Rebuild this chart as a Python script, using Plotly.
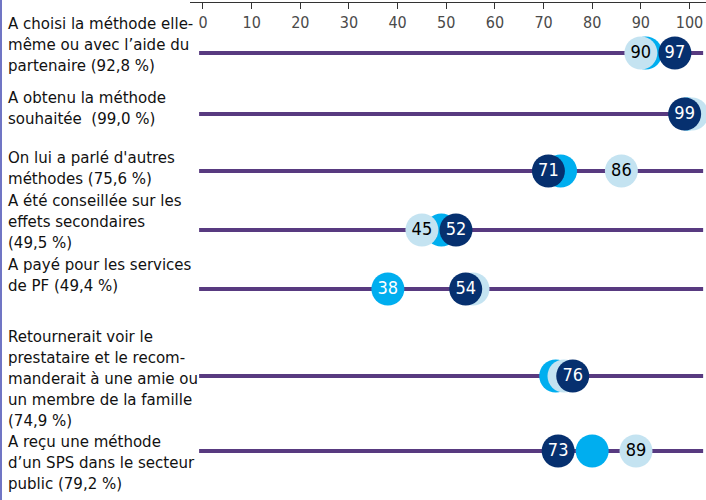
import plotly.graph_objects as go

# ---------------- data ----------------
labels = [
    "A choisi la méthode elle-<br>même ou avec l’aide du<br>partenaire (92,8 %)",
    "A obtenu la méthode<br>souhaitée  (99,0 %)",
    "On lui a parlé d'autres<br>méthodes (75,6 %)",
    "A été conseillée sur les<br>effets secondaires<br>(49,5 %)",
    "A payé pour les services<br>de PF (49,4 %)",
    "Retournerait voir le<br>prestataire et le recom-<br>manderait à une amie ou<br>un membre de la famille<br>(74,9 %)",
    "A reçu une méthode<br>d’un SPS dans le secteur<br>public (79,2 %)",
]
cyan_vals = [91, 99.5, 73.5, 49, 38, 72.5, 80]
light_vals = [90, 100.5, 86, 45, 55.5, 74.2, 89]
dark_vals = [97, 99, 71, 52, 54, 76, 73]
cyan_text = ["", "", "", "", "38", "", ""]
light_text = ["90", "", "86", "45", "", "", "89"]
dark_text = ["97", "99", "71", "52", "54", "76", "73"]
tick_vals = [0, 10, 20, 30, 40, 50, 60, 70, 80, 90, 100]

# ---------------- layout constants ----------------
W, H = 706, 500
row_y = [53, 114, 171, 230, 289, 376, 451]        # row centres (px from top)
label_y = [44, 107, 167, 221, 274, 378, 462]      # label block centres
line_gap = 21
FONT = "DejaVu Sans Condensed"
C_DARK = "#06306f"
C_CYAN = "#00aeef"
C_LIGHT = "#c4e3f1"
C_LINE = "#583a80"
TOP = 3
x_dom0 = 190 / W
x_range = [-2.67, 103.39]

fig = go.Figure()

def add_series(vals, texts, color, tcolor):
    fig.add_trace(go.Scatter(
        x=vals, y=row_y, mode="markers+text",
        marker=dict(size=33, color=color, line=dict(width=0)),
        text=texts, textposition="middle center",
        textfont=dict(family=FONT, size=18, color=tcolor),
        showlegend=False, hoverinfo="x",
    ))

add_series(cyan_vals, cyan_text, C_CYAN, "white")
add_series(light_vals, light_text, C_LIGHT, "black")
add_series(dark_vals, dark_text, C_DARK, "white")

shapes = []
for y in row_y:
    shapes.append(dict(type="line", xref="x", yref="y", x0=-0.8, x1=102.8,
                       y0=y, y1=y, line=dict(color=C_LINE, width=4), layer="below"))
# left border strip
shapes.append(dict(type="rect", xref="paper", yref="paper", x0=0, x1=2 / W,
                   y0=-0.01, y1=1 + TOP / (H - TOP), fillcolor="#7075c4",
                   line=dict(width=0), layer="above"))

annotations = []
for lab, cy in zip(labels, label_y):
    lines = lab.split("<br>")
    n = len(lines)
    for i, ln in enumerate(lines):
        yy = cy + (i - (n - 1) / 2) * line_gap
        annotations.append(dict(
            text=ln, xref="paper", yref="y", x=6 / W, y=yy,
            xanchor="left", yanchor="middle", showarrow=False,
            font=dict(family=FONT, size=16.7, color="#111111"),
        ))

fig.update_layout(
    width=W, height=H,
    margin=dict(l=0, r=0, t=TOP, b=0),
    paper_bgcolor="white", plot_bgcolor="white",
    shapes=shapes, annotations=annotations,
    xaxis=dict(
        domain=[x_dom0, 1], range=x_range, side="top",
        tickvals=tick_vals, ticks="inside", ticklen=6, tickcolor="#333333",
        ticklabelposition="inside", ticklabelstandoff=8,
        tickfont=dict(family=FONT, size=16, color="#4a4a4a"),
        showline=True, linecolor="#333333", linewidth=1,
        showgrid=False, zeroline=False, automargin=False,
    ),
    yaxis=dict(range=[H, TOP], visible=False, showgrid=False, zeroline=False),
)

fig.write_html("out.html", config={"displayModeBar": False},
               post_script="document.body.style.margin='0';document.body.style.padding='0';")
